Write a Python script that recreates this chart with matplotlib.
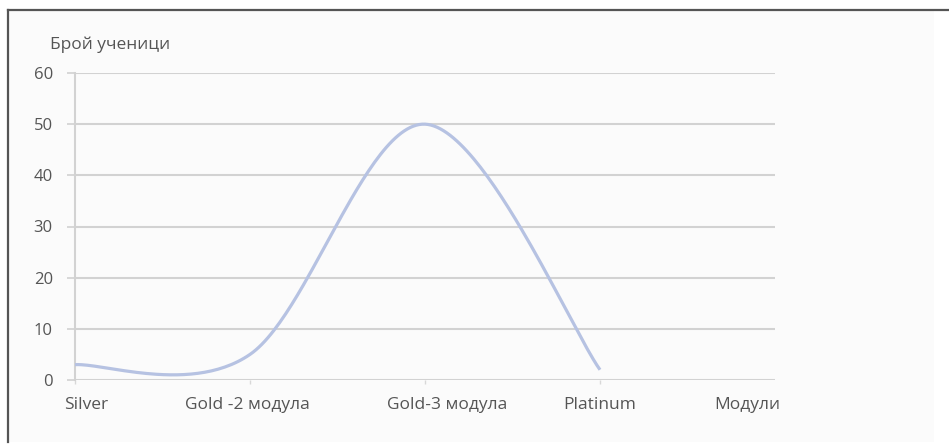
import numpy as np
import matplotlib
matplotlib.use("Agg")
import matplotlib.pyplot as plt
from matplotlib.lines import Line2D
import matplotlib.transforms as mtransforms

# ---- data ----
categories = ["Silver", "Gold -2 модула", "Gold-3 модула", "Platinum"]
students = [3, 5, 50, 2]
y_ticks = [0, 10, 20, 30, 40, 50, 60]
y_title = "Брой ученици"
x_title = "Модули"

plt.rcParams['font.family'] = ['Open Sans', 'DejaVu Sans']

fig = plt.figure(figsize=(9.49, 4.47), dpi=100, facecolor="white")
W, H = 949, 447

# light panel with dark top/left edge
fig.patches.append(plt.Rectangle((8 / W, 1 - 442 / H), (934 - 8) / W, (442 - 10) / H,
                                 transform=fig.transFigure, facecolor="#fbfbfb",
                                 edgecolor="none", zorder=-5))
fig.add_artist(Line2D([8 / W, 1], [1 - 10 / H, 1 - 10 / H], transform=fig.transFigure,
                      color="#555555", lw=1.6, zorder=-4))
fig.add_artist(Line2D([8 / W, 8 / W], [1 - 442 / H, 1 - 10 / H], transform=fig.transFigure,
                      color="#555555", lw=1.6, zorder=-4))

ax = fig.add_axes([75 / W, 1 - 380 / H, (775 - 75) / W, (380 - 73) / H])
ax.set_facecolor("none")
ax.set_zorder(2)

# Excel-like smoothing (cubic Bezier, control points at 1/6 of neighbour difference)
x = np.arange(len(students), dtype=float)
y = np.asarray(students, dtype=float)
P = np.column_stack([x, y])
n = len(P)
curve = []
t = np.linspace(0, 1, 60)
for i in range(n - 1):
    p0 = P[i]
    p3 = P[i + 1]
    prev = P[i - 1] if i > 0 else P[i]
    nxt = P[i + 2] if i + 2 < n else P[i + 1]
    p1 = p0 + (p3 - prev) / 6.0
    p2 = p3 - (nxt - p0) / 6.0
    seg = ((1 - t) ** 3)[:, None] * p0 + (3 * (1 - t) ** 2 * t)[:, None] * p1 \
        + (3 * (1 - t) * t ** 2)[:, None] * p2 + (t ** 3)[:, None] * p3
    curve.append(seg)
curve = np.vstack(curve)
ax.plot(curve[:, 0], curve[:, 1], color="#b6c2e2", lw=2.3, solid_capstyle="butt", zorder=3)

ax.set_xlim(0, 4)
ax.set_ylim(0, 60)
ax.set_yticks(y_ticks)
ax.yaxis.grid(True, color="#d2d2d2", lw=1.5)
ax.set_axisbelow(True)
for s in ["top", "right", "bottom"]:
    ax.spines[s].set_visible(False)
ax.spines["left"].set_color("#d2d2d2")
ax.spines["left"].set_linewidth(1.5)
ax.tick_params(axis="y", length=6, width=1.2, color="#d2d2d2", labelsize=12,
               labelcolor="#555555", pad=10)

ax.set_xticks(range(len(categories)))
ax.set_xticklabels(categories)
ax.tick_params(axis="x", length=3, width=1, color="#d8d8d8", labelsize=12.5,
               labelcolor="#555555", pad=9)
shifts = [11, -3, 22, 0]
for lbl, dx in zip(ax.get_xticklabels(), shifts):
    lbl.set_transform(lbl.get_transform() + mtransforms.ScaledTranslation(dx / 100, 0, fig.dpi_scale_trans))

fig.text(110 / W, 1 - 45 / H, y_title, ha="center", va="center", fontsize=12.5, color="#555555")
fig.text(747 / W, 1 - 405 / H, x_title, ha="center", va="center", fontsize=12.5, color="#555555")

fig.savefig("out.png", dpi=100, facecolor="white")
